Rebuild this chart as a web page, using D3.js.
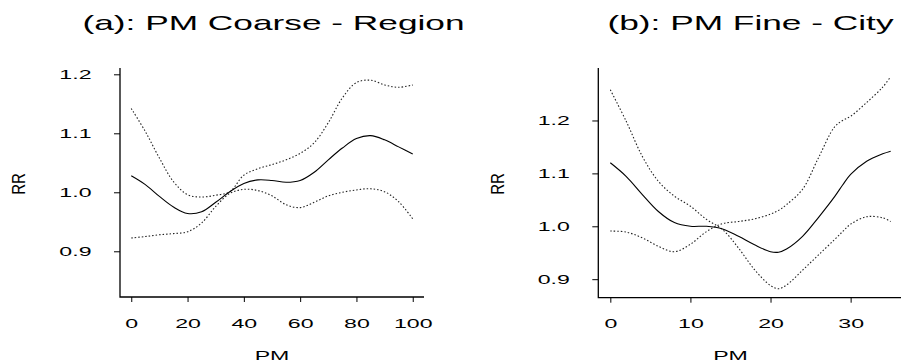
<!DOCTYPE html>
<html>
<head>
<meta charset="utf-8">
<script src="https://cdn.jsdelivr.net/npm/d3@7"></script>
<style>
  html, body { margin: 0; padding: 0; background: #fff; }
  svg { display: block; }
  text { font-family: "Liberation Sans", Arial, Helvetica, sans-serif; fill: #000; }
</style>
</head>
<body>
<svg id="chart" width="901" height="363"></svg>
<script>
// ---------------- data ----------------
const titles = ["(a): PM Coarse - Region", "(b): PM Fine - City"];
const xLabel = "PM";
const yLabel = "RR";

// Panel (a): PM coarse
const xA = [0, 5, 10, 15, 20, 25, 30, 35, 40, 45, 50, 55, 60, 65, 70, 75, 80, 85, 90, 95, 100];
const fitA = [1.028, 1.013, 0.993, 0.975, 0.964, 0.967, 0.983, 1.001, 1.015, 1.021, 1.020, 1.017, 1.020, 1.034, 1.055, 1.075, 1.091, 1.096, 1.089, 1.077, 1.065];
const upperA = [1.142, 1.103, 1.058, 1.018, 0.996, 0.992, 0.995, 1.001, 1.029, 1.040, 1.047, 1.055, 1.066, 1.084, 1.118, 1.160, 1.186, 1.190, 1.182, 1.178, 1.182];
const lowerA = [0.9225, 0.925, 0.928, 0.930, 0.933, 0.948, 0.976, 0.998, 1.005, 1.003, 0.994, 0.979, 0.974, 0.983, 0.994, 1.000, 1.004, 1.006, 1.001, 0.984, 0.955];
const xTicksA = [0, 20, 40, 60, 80, 100];
const yTicksA = [0.9, 1.0, 1.1, 1.2];

// Panel (b): PM fine
const xB = [0, 2, 4, 6, 8, 10, 12, 14, 16, 18, 20, 21, 22, 24, 26, 28, 29, 30, 32, 34, 35];
const fitB = [1.120, 1.094, 1.060, 1.028, 1.007, 1.000, 1.000, 0.995, 0.981, 0.965, 0.952, 0.951, 0.957, 0.981, 1.017, 1.056, 1.078, 1.098, 1.123, 1.137, 1.142];
const band1B = [1.258, 1.198, 1.132, 1.085, 1.057, 1.038, 1.013, 0.994, 0.959, 0.918, 0.888, 0.882, 0.889, 0.917, 0.946, 0.975, 0.990, 1.004, 1.018, 1.016, 1.009];
const band2B = [0.991, 0.989, 0.978, 0.962, 0.952, 0.966, 0.990, 1.005, 1.009, 1.014, 1.023, 1.030, 1.041, 1.070, 1.130, 1.188, 1.200, 1.208, 1.234, 1.263, 1.283];
const xTicksB = [0, 10, 20, 30];
const yTicksB = [0.9, 1.0, 1.1, 1.2];

// ---------------- layout ----------------
const panels = [
  {
    title: titles[0], titleX: 273.5,
    xs: xA, fit: fitA, bands: [upperA, lowerA],
    xDomain: [-4, 104], xRange: [120, 424],
    yDomain: [0.8225, 1.2107], yRange: [297, 68],
    xTicks: xTicksA, yTicks: yTicksA,
    yLabelX: 18
  },
  {
    title: titles[1], titleX: 750.5,
    xs: xB, fit: fitB, bands: [band1B, band2B],
    xDomain: [-1.5, 36.4], xRange: [598.3, 901.9],
    yDomain: [0.865, 1.2992], yRange: [297.7, 68],
    xTicks: xTicksB, yTicks: yTicksB,
    yLabelX: 497.5
  }
];

const SX_SMALL = 1.85;
const SX_TITLE = 1.68;
const svg = d3.select("#chart");
svg.append("rect").attr("width", 901).attr("height", 363).attr("fill", "#fff");

panels.forEach(p => {
  const x = d3.scaleLinear().domain(p.xDomain).range(p.xRange);
  const y = d3.scaleLinear().domain(p.yDomain).range(p.yRange);
  const g = svg.append("g");

  // L-shaped box
  const x0 = p.xRange[0], x1 = p.xRange[1], y0 = p.yRange[0], y1 = p.yRange[1];
  g.append("path")
    .attr("d", `M${x0},${y1}V${y0}H${x1}`)
    .attr("fill", "none").attr("stroke", "#000").attr("stroke-width", 1.3);

  // x axis ticks
  const ax = g.append("g").attr("transform", `translate(0,${y0})`)
    .call(d3.axisBottom(x).tickValues(p.xTicks).tickSize(5).tickPadding(0).tickFormat(d3.format("d")));
  ax.select(".domain").remove();
  ax.selectAll(".tick line").attr("stroke", "#000").attr("stroke-width", 1);
  ax.selectAll(".tick text")
    .attr("font-size", 12.5).attr("fill", "#000")
    .attr("y", 0).attr("dy", 0)
    .attr("transform", `translate(0,30.5) scale(${SX_SMALL},1)`);

  // y axis ticks
  const ay = g.append("g").attr("transform", `translate(${x0},0)`)
    .call(d3.axisLeft(y).tickValues(p.yTicks).tickSize(6).tickFormat(d3.format(".1f")));
  ay.select(".domain").remove();
  ay.selectAll(".tick line").attr("stroke", "#000").attr("stroke-width", 1);
  ay.selectAll(".tick text")
    .attr("font-size", 12.5).attr("fill", "#000")
    .attr("x", -28.5 / SX_SMALL).attr("dy", "0.36em")
    .attr("transform", `scale(${SX_SMALL},1)`);

  const line = d3.line().x((d, i) => x(p.xs[i])).y(d => y(d)).curve(d3.curveCatmullRom.alpha(0.5));

  // confidence bands (dotted)
  p.bands.forEach(b => {
    g.append("path").datum(b).attr("d", line)
      .attr("fill", "none").attr("stroke", "#222").attr("stroke-width", 1.1)
      .attr("stroke-dasharray", "1.5,2");
  });
  // fit (solid)
  g.append("path").datum(p.fit).attr("d", line)
    .attr("fill", "none").attr("stroke", "#000").attr("stroke-width", 1.1);

  // title
  g.append("text")
    .attr("transform", `translate(${p.titleX},30) scale(${SX_TITLE},1)`)
    .attr("text-anchor", "middle").attr("font-size", 21)
    .text(p.title);

  // x label
  const xc = (x(p.xTicks[0]) + x(p.xTicks[p.xTicks.length - 1])) / 2;
  g.append("text")
    .attr("transform", `translate(${xc},360) scale(${SX_SMALL},1)`)
    .attr("text-anchor", "middle").attr("font-size", 12.5)
    .text(xLabel);

  // y label
  g.append("text")
    .attr("transform", `translate(${p.yLabelX},184) rotate(-90) scale(1,1.25)`)
    .attr("text-anchor", "middle").attr("dy", "0.36em").attr("font-size", 15)
    .text(yLabel);
});
</script>
</body>
</html>
